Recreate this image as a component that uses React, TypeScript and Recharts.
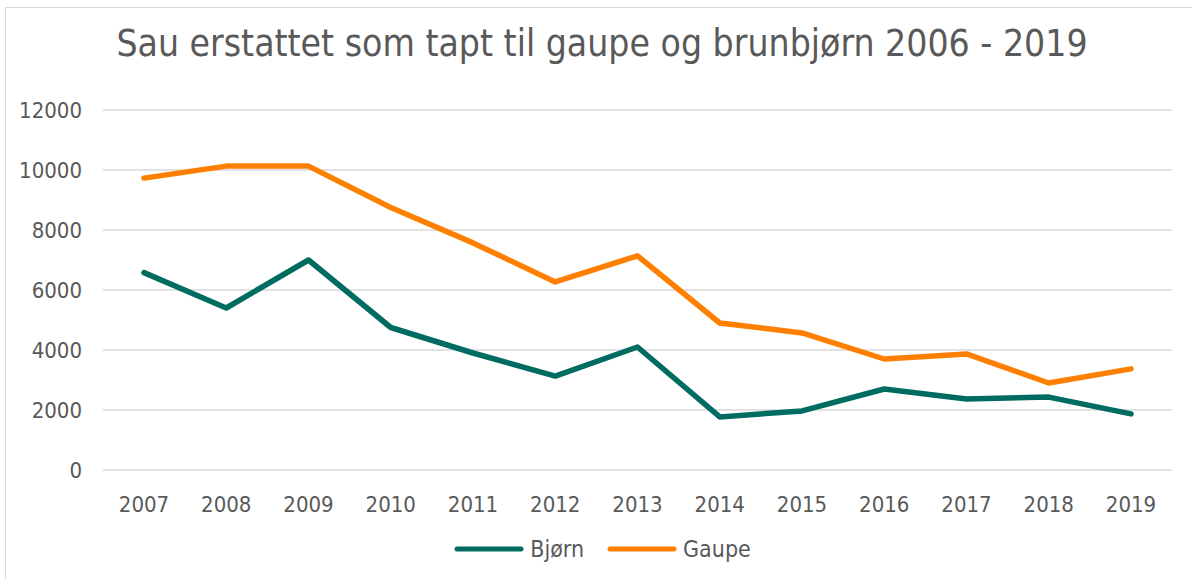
import { LineChart, Line, XAxis, YAxis, CartesianGrid, Legend } from 'recharts'

const years = ['2007', '2008', '2009', '2010', '2011', '2012', '2013', '2014', '2015', '2016', '2017', '2018', '2019']
const bjorn = [6580, 5400, 7000, 4750, 3900, 3130, 4100, 1770, 1970, 2700, 2370, 2430, 1870]
const gaupe = [9730, 10130, 10130, 8750, 7570, 6270, 7140, 4900, 4570, 3700, 3870, 2900, 3370]
const yTicks = [0, 2000, 4000, 6000, 8000, 10000, 12000]

const title = 'Sau erstattet som tapt til gaupe og brunbjørn 2006 - 2019'
const teal = '#006B61'
const orange = '#FF8000'
const textColor = '#595959'
const font = '"DejaVu Sans Condensed", "DejaVu Sans", sans-serif'

const data = years.map((year, i) => ({ year, Bjørn: bjorn[i], Gaupe: gaupe[i] }))

function LegendContent() {
  const items = [
    { name: 'Bjørn', color: teal },
    { name: 'Gaupe', color: orange },
  ]
  return (
    <div style={{ display: 'flex', justifyContent: 'center', alignItems: 'center', height: 58, paddingLeft: 32, fontFamily: font, fontSize: 23, color: textColor }}>
      {items.map(item => (
        <div key={item.name} style={{ display: 'flex', alignItems: 'center', margin: '0 11px' }}>
          <svg width={72} height={8} style={{ marginRight: 5 }}>
            <line x1={4} y1={4} x2={68} y2={4} stroke={item.color} strokeWidth={5} strokeLinecap="round" />
          </svg>
          <span>{item.name}</span>
        </div>
      ))}
    </div>
  )
}

export default function App() {
  return (
    <div style={{ position: 'absolute', left: 0, top: 0, width: 1192, height: 579, background: '#fff', overflow: 'hidden' }}>
      <div style={{ position: 'absolute', left: 5, top: 7, width: 1200, height: 600, border: '1.5px solid #d9d9d9' }} />
      <div style={{ position: 'absolute', left: 0, top: 22, width: 1204, textAlign: 'center', fontFamily: font, fontSize: 37, color: textColor }}>
        {title}
      </div>
      <div style={{ position: 'absolute', left: 0, top: 0 }}>
        <LineChart width={1192} height={579} data={data} margin={{ top: 110, right: 20, left: 0, bottom: 1 }}>
          <CartesianGrid vertical={false} stroke="#d9d9d9" strokeWidth={1.5} />
          <XAxis
            dataKey="year"
            axisLine={false}
            tickLine={false}
            tickSize={0}
            tickMargin={26}
            height={50}
            padding={{ left: 41, right: 41 }}
            tick={{ fontSize: 22, fill: textColor, fontFamily: font }}
            interval={0}
          />
          <YAxis
            width={103}
            domain={[0, 12000]}
            ticks={yTicks}
            axisLine={false}
            tickLine={false}
            tickSize={0}
            tickMargin={21}
            tick={{ fontSize: 22, fill: textColor, fontFamily: font }}
          />
          <Legend verticalAlign="bottom" height={58} content={() => <LegendContent />} />
          <Line dataKey="Bjørn" stroke={teal} strokeWidth={5.5} dot={false} strokeLinecap="round" strokeLinejoin="round" isAnimationActive={false} />
          <Line dataKey="Gaupe" stroke={orange} strokeWidth={5.5} dot={false} strokeLinecap="round" strokeLinejoin="round" isAnimationActive={false} />
        </LineChart>
      </div>
    </div>
  )
}
